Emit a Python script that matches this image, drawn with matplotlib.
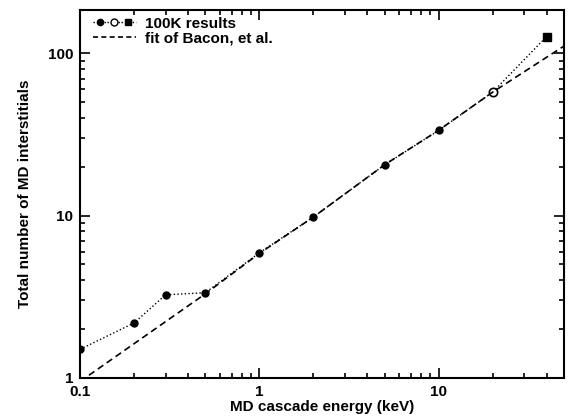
import numpy as np
import matplotlib.pyplot as plt
from matplotlib.lines import Line2D
from matplotlib.legend_handler import HandlerTuple
from matplotlib.ticker import FixedLocator, FixedFormatter, LogLocator, NullFormatter

plt.rcParams['font.family'] = ['Liberation Sans', 'DejaVu Sans']
plt.rcParams['font.weight'] = 'bold'

# 100K MD results
energy = [0.1, 0.2, 0.3, 0.5, 1, 2, 5, 10]
interstitials = [1.5, 2.18, 3.25, 3.35, 5.9, 9.8, 20.6, 33.5]
energy_open = [20]
interstitials_open = [57.7]
energy_sq = [40]
interstitials_sq = [127]

# fit of Bacon, et al.
fit_energy = [0.1, 0.5, 1, 2, 5, 10, 20, 50]
fit_values = [0.95, 3.3, 5.85, 9.8, 20.6, 33.6, 57.7, 111]

xticks = [0.1, 1, 10]
yticks = [1, 10, 100]

fig = plt.figure(figsize=(5.68, 4.18), dpi=100)
ax = fig.add_axes([0.141, 0.096, 0.852, 0.88])

all_e = energy + energy_open + energy_sq
all_n = interstitials + interstitials_open + interstitials_sq
ax.plot(all_e, all_n, color='black', linestyle=':', linewidth=1.0)
ax.plot(energy, interstitials, 'o', color='black', markersize=5)
ax.plot(energy_open, interstitials_open, 'o', markerfacecolor='white',
        markeredgecolor='black', markeredgewidth=1.2, markersize=6)
ax.plot(energy_sq, interstitials_sq, 's', color='black', markersize=5.5)
ax.plot(fit_energy, fit_values, color='black', linestyle=(0, (4, 2.5)), linewidth=1.2)

ax.set_xscale('log')
ax.set_yscale('log')
ax.set_xlim(0.1, 50)
ax.set_ylim(1, 185)

ax.xaxis.set_major_locator(FixedLocator(xticks))
ax.xaxis.set_major_formatter(FixedFormatter([str(t) for t in xticks]))
ax.yaxis.set_major_locator(FixedLocator(yticks))
ax.yaxis.set_major_formatter(FixedFormatter([str(t) for t in yticks]))
ax.xaxis.set_minor_locator(LogLocator(base=10, subs=np.arange(2, 10)))
ax.yaxis.set_minor_locator(LogLocator(base=10, subs=np.arange(2, 10)))
ax.xaxis.set_minor_formatter(NullFormatter())
ax.yaxis.set_minor_formatter(NullFormatter())

ax.tick_params(which='both', direction='in', top=True, right=True, labelsize=11, width=1.2)
ax.tick_params(which='major', length=7, pad=5)
ax.tick_params(which='minor', length=3.5)
for s in ax.spines.values():
    s.set_linewidth(1.5)

ax.set_xlabel('MD cascade energy (keV)', fontsize=11, fontweight='bold', labelpad=1)
ax.set_ylabel('Total number of MD interstitials', fontsize=11, fontweight='bold', labelpad=11)

h1 = Line2D([], [], color='black', linestyle=':', marker='o', markersize=4.5, linewidth=1)
h2 = Line2D([], [], color='black', linestyle=':', marker='o', markersize=5,
            markerfacecolor='white', linewidth=1)
h3 = Line2D([], [], color='black', linestyle=':', marker='s', markersize=4.5, linewidth=1)
h4 = Line2D([], [], color='black', linestyle=(0, (3, 2)), linewidth=1.2)
ax.legend([(h1, h2, h3), h4], ['100K results', 'fit of Bacon, et al.'],
          handler_map={tuple: HandlerTuple(ndivide=3, pad=0)},
          loc='upper left', bbox_to_anchor=(0.02, 0.99), frameon=False,
          handlelength=2.8, handletextpad=0.6, labelspacing=0.05,
          borderaxespad=0, borderpad=0.2,
          prop={'weight': 'bold', 'size': 11})

fig.savefig('out.png', dpi=100)
